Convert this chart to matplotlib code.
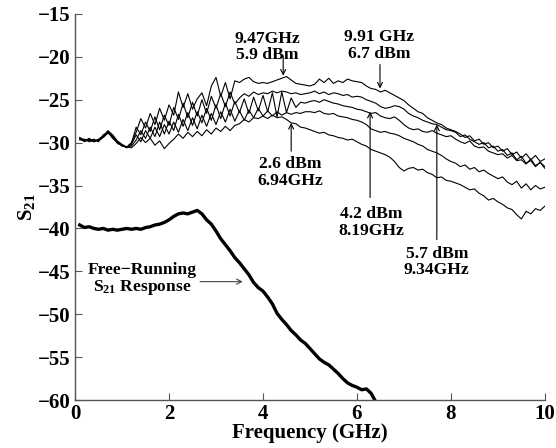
"""S21 response of injection-locked laser for several injection powers."""
import numpy as np
import matplotlib
matplotlib.use("Agg")
import matplotlib.pyplot as plt

plt.rcParams['font.family'] = 'Liberation Serif'
plt.rcParams['font.weight'] = 'bold'
plt.rcParams['axes.labelweight'] = 'bold'
plt.rcParams['mathtext.fontset'] = 'custom'
plt.rcParams['mathtext.rm'] = 'Liberation Serif:bold'
plt.rcParams['mathtext.bf'] = 'Liberation Serif:bold'
plt.rcParams['mathtext.it'] = 'Liberation Serif:bold'
plt.rcParams['mathtext.default'] = 'bf'

# axis ticks
x_ticks = [0, 2, 4, 6, 8, 10]
y_ticks = [-60, -55, -50, -45, -40, -35, -30, -25, -20, -15]

# frequency grid (GHz) shared by the injection-locked traces
freq = np.round(np.arange(0.1, 10.01, 0.1), 1)

# injection-locked S21 traces (dB), top to bottom at 5 GHz
trace_a = [
    -29.6, -29.8, -29.5, -29.9, -29.7, -29.3, -28.6, -29.1, -29.8, -30.2,
    -30.5, -30.0, -28.8, -27.2, -28.3, -26.6, -27.9, -26.0, -27.4, -25.6,
    -26.8, -24.1, -25.9, -24.3, -26.1, -24.9, -24.2, -25.7, -23.4, -22.4,
    -24.6, -23.0, -24.9, -22.8, -23.0, -22.6, -22.4, -22.9, -23.1, -23.0,
    -23.1, -22.9, -22.7, -22.5, -22.3, -22.7, -23.1, -23.2, -23.3, -23.4,
    -23.2, -22.6, -23.0, -22.5, -23.1, -22.8, -23.0, -22.6, -22.8, -22.9,
    -23.0, -23.4, -23.7, -23.8, -24.1, -23.9, -24.2, -24.5, -24.8, -25.1,
    -25.6, -26.0, -26.4, -26.6, -27.1, -27.4, -27.7, -27.9, -28.3, -28.5,
    -28.7, -29.0, -29.4, -29.2, -29.8, -29.6, -30.2, -30.0, -30.6, -30.4,
    -31.0, -30.7, -31.4, -31.1, -31.8, -31.3, -32.0, -31.5, -32.2, -31.9,
]
trace_b = [
    -29.4, -29.7, -29.8, -29.6, -29.9, -29.1, -28.8, -29.4, -30.0, -30.3,
    -30.6, -30.1, -28.2, -29.1, -27.6, -28.7, -27.0, -28.5, -26.8, -28.0,
    -25.9, -27.3, -25.4, -27.1, -25.3, -26.9, -25.0, -26.6, -24.6, -26.0,
    -24.3, -25.8, -24.1, -25.5, -24.8, -24.3, -24.6, -24.1, -24.4, -24.2,
    -24.3, -24.0, -24.2, -24.0, -24.1, -24.3, -24.2, -24.4, -24.3, -24.2,
    -24.0, -24.3, -24.1, -24.4, -24.2, -24.3, -24.5, -24.4, -24.7, -24.6,
    -24.7, -25.0, -25.2, -25.4, -25.8, -26.0, -25.9, -25.7, -25.8, -26.1,
    -26.6, -26.9, -27.1, -27.4, -27.6, -27.8, -27.9, -28.2, -28.5, -28.6,
    -28.8, -29.3, -29.1, -29.6, -29.9, -30.2, -30.0, -30.6, -30.4, -31.0,
    -30.8, -31.5, -31.2, -32.0, -31.6, -32.4, -32.1, -32.8, -32.3, -33.0,
]
trace_c = [
    -29.5, -29.9, -29.6, -29.8, -29.6, -29.2, -28.7, -29.3, -29.9, -30.4,
    -30.5, -30.4, -29.7, -28.6, -29.5, -28.2, -29.3, -27.6, -29.0, -27.5,
    -28.6, -26.7, -28.1, -26.5, -28.0, -26.4, -27.7, -26.0, -27.4, -25.6,
    -27.2, -25.4, -26.9, -25.2, -26.5, -24.9, -26.6, -24.7, -26.3, -24.5,
    -26.4, -24.2, -27.0, -24.1, -26.5, -24.8, -25.9, -25.3, -25.4, -25.2,
    -25.1, -25.3, -25.0, -25.2, -25.4, -25.5, -25.7, -25.8, -25.9, -26.1,
    -26.2, -26.4, -26.6, -26.5, -26.9, -27.1, -27.2, -27.0, -27.4, -27.9,
    -28.3, -28.5, -28.4, -28.7, -28.8, -28.6, -28.9, -29.1, -29.3, -29.2,
    -29.6, -29.9, -30.1, -29.8, -30.4, -30.6, -30.5, -31.0, -31.2, -31.4,
    -31.3, -31.8, -31.5, -32.1, -32.0, -32.5, -31.9, -32.7, -32.3, -32.8,
]
trace_d = [
    -29.7, -29.6, -29.9, -29.7, -29.8, -29.4, -28.9, -29.2, -30.1, -30.3,
    -30.6, -30.2, -29.1, -29.9, -28.6, -29.5, -28.2, -29.3, -27.9, -29.0,
    -27.6, -28.8, -27.3, -28.6, -27.1, -28.4, -26.8, -28.1, -26.6, -27.9,
    -26.4, -27.6, -26.1, -27.5, -26.3, -27.4, -26.2, -27.1, -26.0, -26.9,
    -26.3, -26.9, -26.4, -26.8, -26.5, -26.7, -26.5, -26.6, -26.4, -26.4,
    -26.5, -26.3, -26.6, -26.7, -26.6, -26.9, -27.0, -27.1, -27.3, -27.4,
    -27.6, -27.9, -28.4, -28.6, -28.8, -28.7, -28.9, -29.0, -29.2, -29.5,
    -29.7, -29.9, -30.2, -30.4, -30.8, -31.0, -31.2, -31.5, -31.9, -32.2,
    -32.4, -32.8, -32.6, -33.1, -32.9, -33.4, -33.2, -33.6, -33.9, -34.2,
    -34.0, -34.6, -34.9, -34.5, -35.3, -34.8, -35.5, -35.0, -35.4, -35.2,
]
trace_e = [
    -29.5, -29.8, -29.7, -29.9, -29.7, -29.3, -28.8, -29.5, -30.0, -30.4,
    -30.5, -30.6, -30.1, -29.4, -30.0, -29.5, -30.3, -29.8, -30.7, -30.1,
    -29.6, -29.0, -29.5, -28.8, -29.3, -28.7, -29.2, -28.5, -29.0, -28.3,
    -28.7, -28.1, -28.6, -28.0, -27.8, -27.3, -27.6, -27.1, -27.2, -26.9,
    -27.2, -26.8, -27.1, -27.0, -27.3, -27.7, -27.8, -28.2, -28.3, -28.5,
    -28.7, -28.9, -28.8, -29.1, -29.2, -29.4, -29.5, -29.7, -29.6, -29.9,
    -30.2, -30.4, -30.8, -31.0, -31.2, -31.4, -31.7, -32.2, -32.9, -33.3,
    -33.0, -32.9, -33.2, -33.1, -33.5, -33.7, -34.1, -34.0, -34.4, -34.5,
    -34.7, -34.9, -35.2, -35.5, -35.4, -35.9, -36.2, -36.7, -36.5, -36.9,
    -37.2, -37.6, -37.8, -38.4, -38.9, -38.0, -38.3, -37.7, -37.9, -37.4,
]
locked_traces = [trace_a, trace_b, trace_c, trace_d, trace_e]

# free-running response (GHz, dB)
free_freq = np.round(np.arange(0.1, 6.41, 0.1), 1)
free_s21 = [
    -39.6, -39.9, -39.8, -40.0, -40.1, -40.0, -40.2, -40.1, -40.2, -40.1,
    -40.0, -40.1, -40.0, -40.1, -39.9, -39.8, -39.6, -39.5, -39.3, -39.0,
    -38.6, -38.3, -38.2, -38.3, -38.1, -37.9, -38.3, -39.0, -39.5, -40.3,
    -41.2, -41.9, -42.6, -43.4, -44.0, -44.7, -45.4, -46.3, -46.9, -47.3,
    -48.0, -48.8, -49.9, -50.6, -51.2, -51.9, -52.4, -53.0, -53.4, -54.0,
    -54.6, -55.2, -55.6, -55.9, -56.4, -56.9, -57.5, -58.0, -58.3, -58.5,
    -58.8, -58.7, -59.2, -60.2,
]

# annotations: (label, text xy, arrow start, arrow end)
notes = [
    ("9.47GHz\n5.9 dBm", (4.09, -18.85), (4.43, -19.9), (4.43, -22.2)),
    ("9.91 GHz\n6.7 dBm", (6.47, -18.7), (6.49, -20.9), (6.49, -23.7)),
    ("2.6 dBm\n6.94GHz", (4.57, -33.5), (4.6, -31.0), (4.6, -27.7)),
    ("4.2 dBm\n8.19GHz", (6.3, -39.3), (6.28, -36.4), (6.28, -26.4)),
    ("5.7 dBm\n9.34GHz", (7.7, -43.9), (7.7, -41.3), (7.7, -27.9)),
]

fig = plt.figure(figsize=(5.56, 4.48), dpi=100)
ax = fig.add_axes([0.135, 0.107, 0.845, 0.862])

for tr in locked_traces:
    ax.plot(freq, tr, color='black', lw=0.8)
ax.plot(free_freq, free_s21, color='black', lw=2.4)

for label, txy, start, end in notes:
    ax.text(txy[0], txy[1], label, ha='center', va='center', fontsize=12.6,
            fontweight='bold', linespacing=1.05)
    ax.annotate("", xy=end, xytext=start,
                arrowprops=dict(arrowstyle='->', color='black', lw=0.8,
                                shrinkA=0, shrinkB=0, mutation_scale=9))

ax.text(1.42, -45.9, "Free\u2212Running\nS$_{21}$ Response", ha='center',
        va='center', fontsize=12.6, fontweight='bold', linespacing=1.0)
ax.annotate("", xy=(3.57, -46.2), xytext=(2.66, -46.2),
            arrowprops=dict(arrowstyle='->', color='#444444', lw=0.8,
                            shrinkA=0, shrinkB=0, mutation_scale=9))

ax.set_xlim(0, 10)
ax.set_ylim(-60, -15)
ax.set_xticks(x_ticks, labels=[str(v) for v in x_ticks],
              fontsize=15, fontweight='bold')
ax.set_yticks(y_ticks, labels=[str(v).replace('-', '\u2212') for v in y_ticks],
              fontsize=15, fontweight='bold')
ax.spines['top'].set_visible(False)
ax.spines['right'].set_visible(False)
for s in ['left', 'bottom']:
    ax.spines[s].set_color('#555555')
    ax.spines[s].set_linewidth(1.0)
ax.tick_params(direction='in', length=5, color='#555555')
ax.tick_params(axis='x', pad=3)
ax.tick_params(axis='y', pad=3)
ax.set_xlabel("Frequency (GHz)", fontsize=15, fontweight='bold', labelpad=-1)
ax.set_ylabel("S$_{21}$", fontsize=15, fontweight='bold', labelpad=1)

fig.savefig("out.png", dpi=100)
